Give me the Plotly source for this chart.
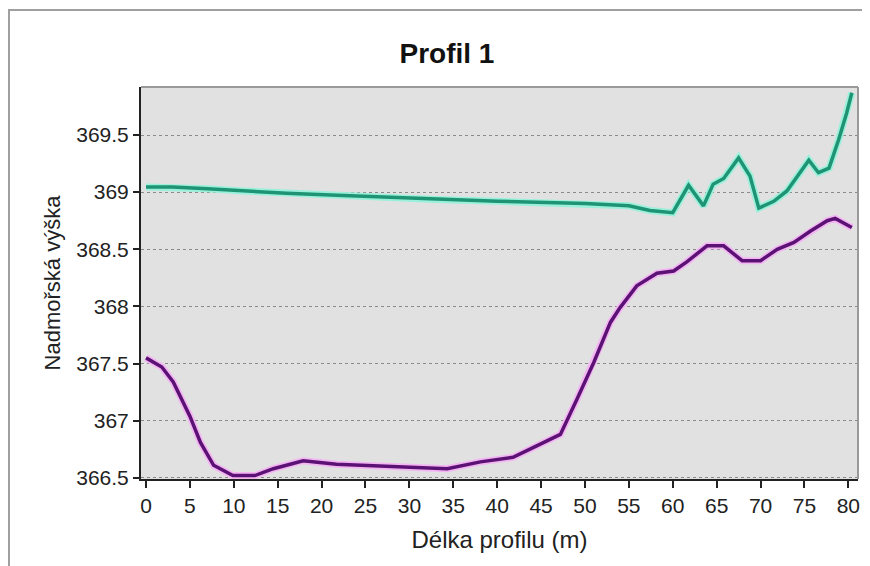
import plotly.graph_objects as go

# Data
x_green = [0, 3, 7, 11, 16, 22.5, 27.5, 33, 40, 50, 55, 57.4, 60, 61.8, 63.5, 64.6, 65.8,
           67.5, 68.8, 69.8, 71.5, 73, 75.5, 76.6, 77.8, 78.9, 79.8, 80.4]
y_green = [369.045, 369.045, 369.03, 369.01, 368.99, 368.97, 368.955, 368.935, 368.92,
           368.9, 368.88, 368.84, 368.82, 369.06, 368.88, 369.07, 369.12, 369.30, 369.14,
           368.86, 368.92, 369.01, 369.28, 369.17, 369.21, 369.46, 369.69, 369.87]

x_purple = [0, 1.8, 3.1, 5.0, 6.2, 7.7, 9.9, 12.4, 14.5, 17.9, 21.7, 25.5, 31.2, 34.3, 38.1,
            41.8, 44.5, 47.2, 49.1, 51.0, 52.9, 54.0, 55.9, 58.2, 60.1, 61.6, 63.9, 65.8,
            67.9, 70.0, 71.9, 73.8, 75.7, 77.6, 78.5, 80.4]
y_purple = [367.55, 367.47, 367.34, 367.04, 366.81, 366.61, 366.52, 366.52, 366.58, 366.65,
            366.62, 366.61, 366.59, 366.58, 366.64, 366.68, 366.78, 366.88, 367.19, 367.51,
            367.86, 367.99, 368.18, 368.29, 368.31, 368.39, 368.53, 368.53, 368.40, 368.40,
            368.50, 368.56, 368.66, 368.75, 368.77, 368.69]

x_ticks = list(range(0, 85, 5))
y_ticks = [366.5, 367, 367.5, 368, 368.5, 369, 369.5]
y_ticklabels = ["366.5", "367", "367.5", "368", "368.5", "369", "369.5"]

FONT = "Liberation Sans, Arial, sans-serif"

fig = go.Figure()
# halos
fig.add_trace(go.Scatter(x=x_green, y=y_green, mode="lines",
                         line=dict(color="#9af0da", width=7), hoverinfo="skip", showlegend=False))
fig.add_trace(go.Scatter(x=x_purple, y=y_purple, mode="lines",
                         line=dict(color="#f3b6f3", width=7), hoverinfo="skip", showlegend=False))
# main lines
fig.add_trace(go.Scatter(x=x_green, y=y_green, mode="lines",
                         line=dict(color="#1e9474", width=3.5), showlegend=False))
fig.add_trace(go.Scatter(x=x_purple, y=y_purple, mode="lines",
                         line=dict(color="#5c1275", width=3.5), showlegend=False))

# page has an 8px body margin: lay the figure out in page coordinates minus 8
OFF = 8
W, H = 870 - OFF, 566 - OFF
PL, PR, PT, PB = 141 - OFF, 858 - OFF, 87 - OFF, 479 - OFF  # plot area in figure pixels
L, R, T, B = PL, W - PR, PT, H - PB
pw, ph = PR - PL, PB - PT

def px(xpix):
    return (xpix - PL) / pw

def py(ypix):
    return (PB - ypix) / ph

fig.update_layout(
    width=W, height=H,
    margin=dict(l=L, r=R, t=T, b=B, autoexpand=False),
    paper_bgcolor="white",
    plot_bgcolor="#e1e1e1",
    font=dict(family=FONT, color="#222222"),
    title=dict(text="<b>Profil 1</b>", x=(447 - OFF) / W, xref="container", xanchor="center",
               y=1 - (53 - OFF) / H, yref="container", yanchor="middle",
               font=dict(size=28, color="#111111", family=FONT)),
    xaxis=dict(range=[-0.57, 81.1], tickmode="array", tickvals=x_ticks,
               ticks="outside", ticklen=7, tickwidth=2, tickcolor="#222",
               showline=True, linecolor="#222", linewidth=2, showgrid=False,
               zeroline=False, tickfont=dict(size=21, color="#222"),
               title=dict(text="Délka profilu (m)", font=dict(size=24, color="#222"), standoff=15)),
    yaxis=dict(range=[366.49, 369.92], tickmode="array", tickvals=y_ticks, ticktext=y_ticklabels,
               ticks="outside", ticklen=6, tickwidth=2, tickcolor="#222",
               showline=True, linecolor="#222", linewidth=2,
               showgrid=True, gridcolor="#8a8a8a", gridwidth=1, griddash="dot",
               zeroline=False, tickfont=dict(size=21, color="#222"),
               title=dict(text="Nadmořská výška", font=dict(size=22, color="#222"), standoff=10)),
    shapes=[
        # plot border (top/right grey)
        dict(type="line", xref="paper", yref="paper", x0=0, x1=1, y0=1, y1=1,
             line=dict(color="#9a9a9a", width=2)),
        dict(type="line", xref="paper", yref="paper", x0=1, x1=1, y0=0, y1=1,
             line=dict(color="#9a9a9a", width=2)),
        # outer frame
        dict(type="rect", xref="paper", yref="paper",
             x0=px(1), x1=px(W + 20), y0=py(H + 20), y1=py(10 - OFF),
             line=dict(color="#a0a0a0", width=2), fillcolor="rgba(0,0,0,0)", layer="below"),
    ],
)

fig.write_html("out.html")
